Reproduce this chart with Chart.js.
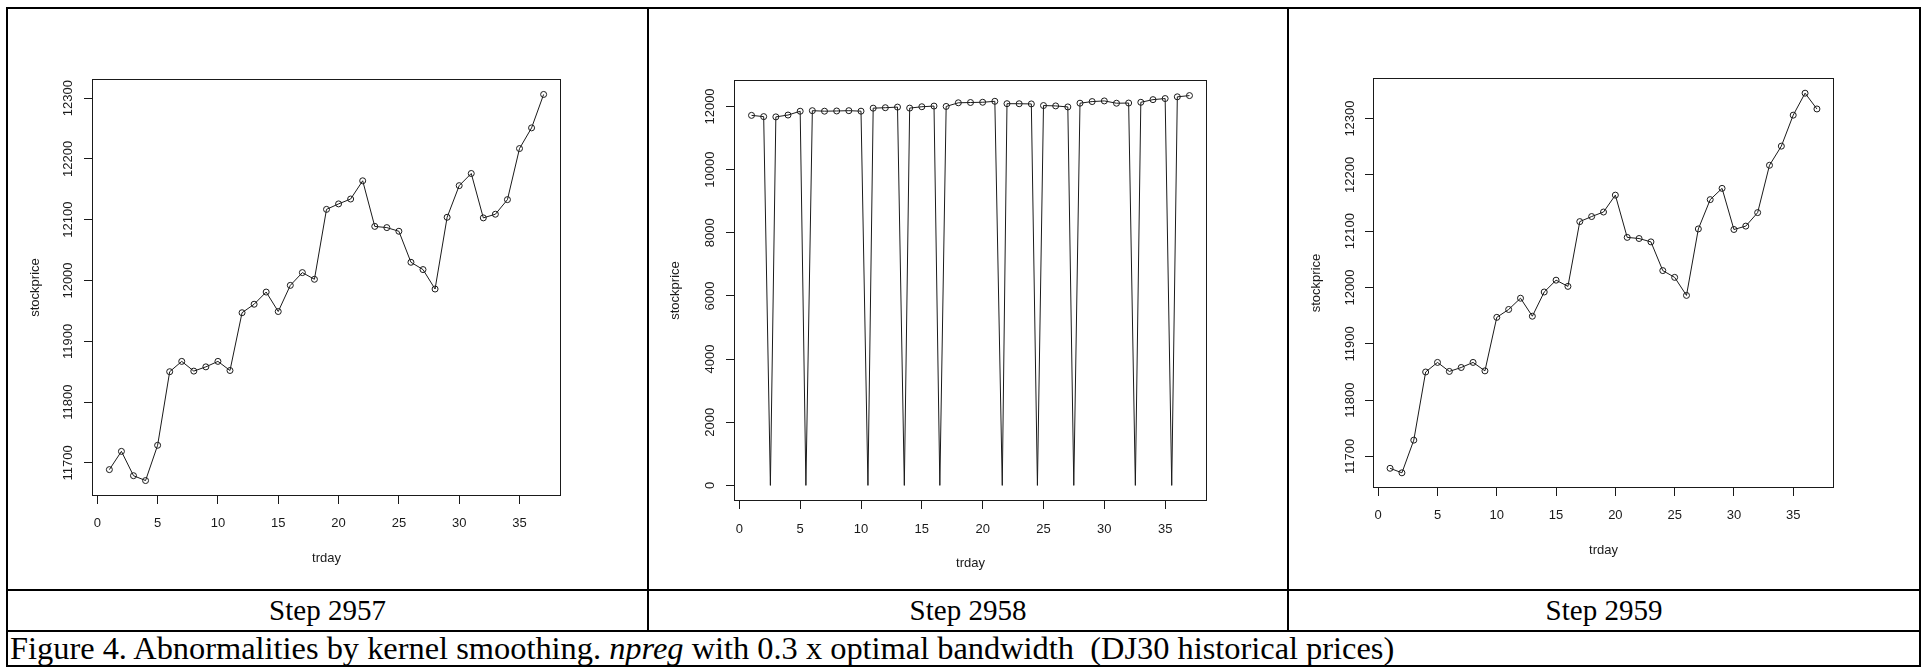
<!DOCTYPE html>
<html>
<head>
<meta charset="utf-8">
<script src="https://cdn.jsdelivr.net/npm/chart.js@4.4.0/dist/chart.umd.min.js"></script>
<style>
  html, body { margin:0; padding:0; background:#fff; }
  body { width:1921px; height:667px; position:relative; overflow:hidden; font-family:"Liberation Serif","Times New Roman",serif; color:#000; }
  .rule { position:absolute; background:#000; }
  .step { position:absolute; top:591px; height:39px; line-height:38px; text-align:center; font-size:29px; }
  .caption { position:absolute; left:10px; top:632px; height:33px; line-height:33px; font-size:32.4px; white-space:nowrap; }
  canvas { position:absolute; }
</style>
</head>
<body>
<div class="rule" style="left:6px;top:7px;width:1915px;height:2px"></div>
<div class="rule" style="left:6px;top:7px;width:2px;height:660px"></div>
<div class="rule" style="left:1919px;top:7px;width:2px;height:660px"></div>
<div class="rule" style="left:6px;top:589px;width:1915px;height:2px"></div>
<div class="rule" style="left:6px;top:630px;width:1915px;height:2px"></div>
<div class="rule" style="left:6px;top:665px;width:1915px;height:2px"></div>
<div class="rule" style="left:647px;top:7px;width:2px;height:624px"></div>
<div class="rule" style="left:1287px;top:7px;width:2px;height:624px"></div>

<div class="step" style="left:8px;width:639px">Step 2957</div>
<div class="step" style="left:649px;width:638px">Step 2958</div>
<div class="step" style="left:1289px;width:630px">Step 2959</div>
<div class="caption">Figure 4. Abnormalities by kernel smoothing. <i>npreg</i> with 0.3 x optimal bandwidth&nbsp; (DJ30 historical prices)</div>

<canvas id="c1"></canvas>
<canvas id="c2"></canvas>
<canvas id="c3"></canvas>

<script>
// trading days shown in every panel
const trday = [1,2,3,4,5,6,7,8,9,10,11,12,13,14,15,16,17,18,19,20,21,22,23,24,25,26,27,28,29,30,31,32,33,34,35,36,37];

// DJ30 closes per window
const price2957 = [11689,11719,11679,11671,11729,11850,11867,11851,11858,11867,11852,11947,11961,11981,11949,11992,12013,12002,12117,12126,12134,12164,12089,12087,12081,12030,12018,11986,12104,12156,12176,12103,12109,12133,12217,12251,12306];
const price2958 = [11719,11679,11671,11729,11850,11867,11851,11858,11867,11852,11947,11961,11981,11949,11992,12013,12002,12117,12126,12134,12164,12089,12087,12081,12030,12018,11986,12104,12156,12176,12103,12109,12133,12217,12251,12306,12345];
const price2959 = [11679,11671,11729,11850,11867,11851,11858,11867,11852,11947,11961,11981,11949,11992,12013,12002,12117,12126,12134,12164,12089,12087,12081,12030,12018,11986,12104,12156,12176,12103,12109,12133,12217,12251,12306,12345,12317];

// step 2958: where the smoothed fit collapses to zero
const dip2958X = [2.55,5.47,10.57,13.56,16.48,21.61,24.5,27.49,32.55,35.54];
const dip2958Y = [0,0,0,0,0,0,0,0,0,0];

// tick labels
const xTicks = [0,5,10,15,20,25,30,35];
const yTicksPrice = [11700,11800,11900,12000,12100,12200,12300];
const yTicksWide = [0,2000,4000,6000,8000,10000,12000];

function pts(xs, ys){ return xs.map((x,i) => ({x:x, y:ys[i]})); }
// R default axis range: data range padded by 4%
function rRange(v){ const lo = Math.min(...v), hi = Math.max(...v), d = (hi-lo)*0.04; return [lo-d, hi+d]; }

const FONT = {family:'"Liberation Sans", Arial, sans-serif', size:13};
const LH = FONT.size * 1.2;
const TL = 8;
const INK = '#1a1a1a';

const rBox = {
  id:'rbox',
  afterDraw(chart){
    const {ctx, chartArea:a} = chart;
    ctx.save();
    ctx.strokeStyle = INK; ctx.lineWidth = 1;
    ctx.strokeRect(Math.round(a.left)+0.5, Math.round(a.top)+0.5, Math.round(a.right-a.left)-1, Math.round(a.bottom-a.top)-1);
    ctx.restore();
  }
};

function makePanel(p){
  const [L,T,R,B] = p.box;
  const cL = Math.floor(p.yTitleX - 14), cT = T - 20, cR = R + 12, cB = Math.ceil(p.xTitleY + 12);
  const cv = document.getElementById(p.id);
  cv.width = cR - cL; cv.height = cB - cT;
  cv.style.left = cL + 'px'; cv.style.top = cT + 'px';

  const m = cv.getContext('2d');
  m.font = FONT.size + 'px ' + FONT.family;
  const w = Math.max(...p.yTicks.map(v => m.measureText(String(v)).width));

  const xr = rRange(p.x), yr = rRange(p.curveY);
  new Chart(cv, {
    type:'scatter',
    data:{ datasets:[
      { data: pts(p.curveX, p.curveY), showLine:true, borderColor:INK, borderWidth:1, pointRadius:0, tension:0 },
      { data: pts(p.x, p.y), showLine:false, pointRadius:3, pointStyle:'circle', borderColor:INK, borderWidth:1, backgroundColor:'rgba(0,0,0,0)' }
    ]},
    options:{
      responsive:false, animation:false, devicePixelRatio:1,
      layout:{ padding:{ left:0, top:T-cT, right:cR-R, bottom:0 } },
      plugins:{ legend:{display:false}, tooltip:{enabled:false} },
      scales:{
        x:{
          type:'linear', position:'bottom', min:xr[0], max:xr[1],
          afterBuildTicks: s => { s.ticks = xTicks.map(v => ({value:v})); },
          afterFit: s => { s.height = cB - B; },
          ticks:{ autoSkip:false, maxRotation:0, font:FONT, color:INK, padding:p.xTickY - B - TL - LH/2, callback: v => String(v) },
          grid:{ drawOnChartArea:false, drawTicks:true, tickLength:TL, tickColor:INK, tickWidth:1 },
          border:{ display:false },
          title:{ display:true, text:'trday', font:FONT, color:INK, padding:{top:0, bottom:cB - p.xTitleY - LH/2} }
        },
        y:{
          type:'linear', position:'left', min:yr[0], max:yr[1],
          afterBuildTicks: s => { s.ticks = p.yTicks.map(v => ({value:v})); },
          afterFit: s => { s.width = L - cL; },
          ticks:{ autoSkip:false, minRotation:90, maxRotation:90, crossAlign:'center', font:FONT, color:INK, padding:L - TL - p.yTickX - w/2, callback: v => String(v) },
          grid:{ drawOnChartArea:false, drawTicks:true, tickLength:TL, tickColor:INK, tickWidth:1 },
          border:{ display:false },
          title:{ display:true, text:'stockprice', font:FONT, color:INK, padding:{top:p.yTitleX - cL - LH/2, bottom:0} }
        }
      }
    },
    plugins:[rBox]
  });
}

// merge the step-2958 observations with the points where the fit drops out
const curve2958 = pts(trday, price2958).concat(pts(dip2958X, dip2958Y)).sort((a,b) => a.x - b.x);

const panels = [
  { id:'c1', x:trday, y:price2957, curveX:trday, curveY:price2957, yTicks:yTicksPrice,
    box:[92,79,561,496], yTickX:68.4, yTitleX:35.2, xTickY:523.5, xTitleY:558.7 },
  { id:'c2', x:trday, y:price2958, curveX:curve2958.map(d => d.x), curveY:curve2958.map(d => d.y), yTicks:yTicksWide,
    box:[734,80,1207,501], yTickX:710.5, yTitleX:675.2, xTickY:529.3, xTitleY:563.3 },
  { id:'c3', x:trday, y:price2959, curveX:trday, curveY:price2959, yTicks:yTicksPrice,
    box:[1373,78,1834,488], yTickX:1350.3, yTitleX:1316, xTickY:515.9, xTitleY:550 }
];

document.addEventListener('DOMContentLoaded', () => panels.forEach(makePanel));
</script>
</body>
</html>
